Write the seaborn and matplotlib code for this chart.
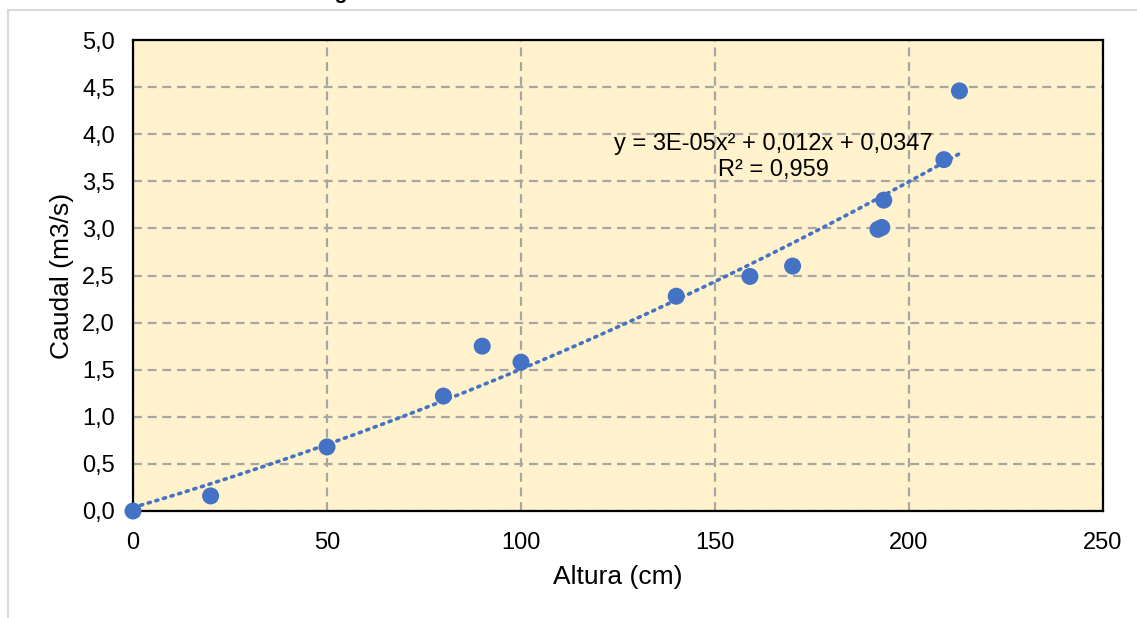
import numpy as np
import pandas as pd
import seaborn as sns
import matplotlib.pyplot as plt
from matplotlib.patches import Rectangle

# Datos
altura = [0, 20, 50, 80, 90, 100, 140, 159, 170, 192, 193, 193.5, 209, 213]
caudal = [0.0, 0.16, 0.68, 1.22, 1.75, 1.58, 2.28, 2.49, 2.60, 2.99, 3.01, 3.30, 3.73, 4.46]
xticks = [0, 50, 100, 150, 200, 250]
yticks = [0.0, 0.5, 1.0, 1.5, 2.0, 2.5, 3.0, 3.5, 4.0, 4.5, 5.0]
ytick_labels = ['0,0', '0,5', '1,0', '1,5', '2,0', '2,5', '3,0', '3,5', '4,0', '4,5', '5,0']
eq_text = 'y = 3E-05x² + 0,012x + 0,0347\nR² = 0,959'
titulo = 'Figura 3. Curva de calibración'

sns.set_style('white')
plt.rcParams['font.family'] = ['Liberation Sans', 'DejaVu Sans']
plt.rcParams['text.color'] = 'black'
plt.rcParams['axes.labelcolor'] = 'black'
plt.rcParams['xtick.color'] = 'black'
plt.rcParams['ytick.color'] = 'black'

blue = '#4472C4'
df = pd.DataFrame({'Altura': altura, 'Caudal': caudal})

fig = plt.figure(figsize=(11.37, 6.18), dpi=100)
ax = fig.add_axes([133 / 1137, 1 - 511 / 618, (1103 - 133) / 1137, (511 - 40) / 618])

# marco gris exterior
fig.patches.append(Rectangle((8 / 1137, -0.05), 1.1, 1.05 - 10 / 618,
                             transform=fig.transFigure, fill=False,
                             edgecolor='#D9D9D9', linewidth=1.5))
# titulo recortado por el borde superior, como en el original
fig.text(465 / 1137, 1 + 1 / 618, titulo, ha='center', va='baseline',
         fontsize=15, fontweight='bold')

ax.set_facecolor('#FFF2CC')

# linea de tendencia polinomica de orden 2
coef = np.polyfit(df['Altura'], df['Caudal'], 2)
xs = np.linspace(0, max(altura), 200)
ax.plot(xs, np.polyval(coef, xs), linestyle=(0, (0.6, 1.6)), color=blue,
        linewidth=2.6, dash_capstyle='round', zorder=2)

sns.scatterplot(data=df, x='Altura', y='Caudal', ax=ax, color=blue, s=150,
                edgecolor='none', zorder=3, clip_on=False)

ax.set_xlim(0, 250)
ax.set_ylim(0, 5)
ax.set_xticks(xticks)
ax.set_yticks(yticks)
ax.set_yticklabels(ytick_labels)
ax.tick_params(axis='x', length=0, labelsize=17, pad=15)
ax.tick_params(axis='y', length=0, labelsize=17, pad=13)
ax.grid(True, color='#A6A6A6', linestyle=(0, (4, 2.6)), linewidth=1.6)
ax.set_axisbelow(True)
for sp in ax.spines.values():
    sp.set_color('black')
    sp.set_linewidth(1.6)

ax.set_xlabel('Altura (cm)', fontsize=19, labelpad=8)
ax.set_ylabel('Caudal (m3/s)', fontsize=19, labelpad=6)

ax.text(165, 3.76, eq_text, ha='center', va='center', fontsize=17,
        linespacing=1.2)

fig.savefig('out.png', dpi=100)
